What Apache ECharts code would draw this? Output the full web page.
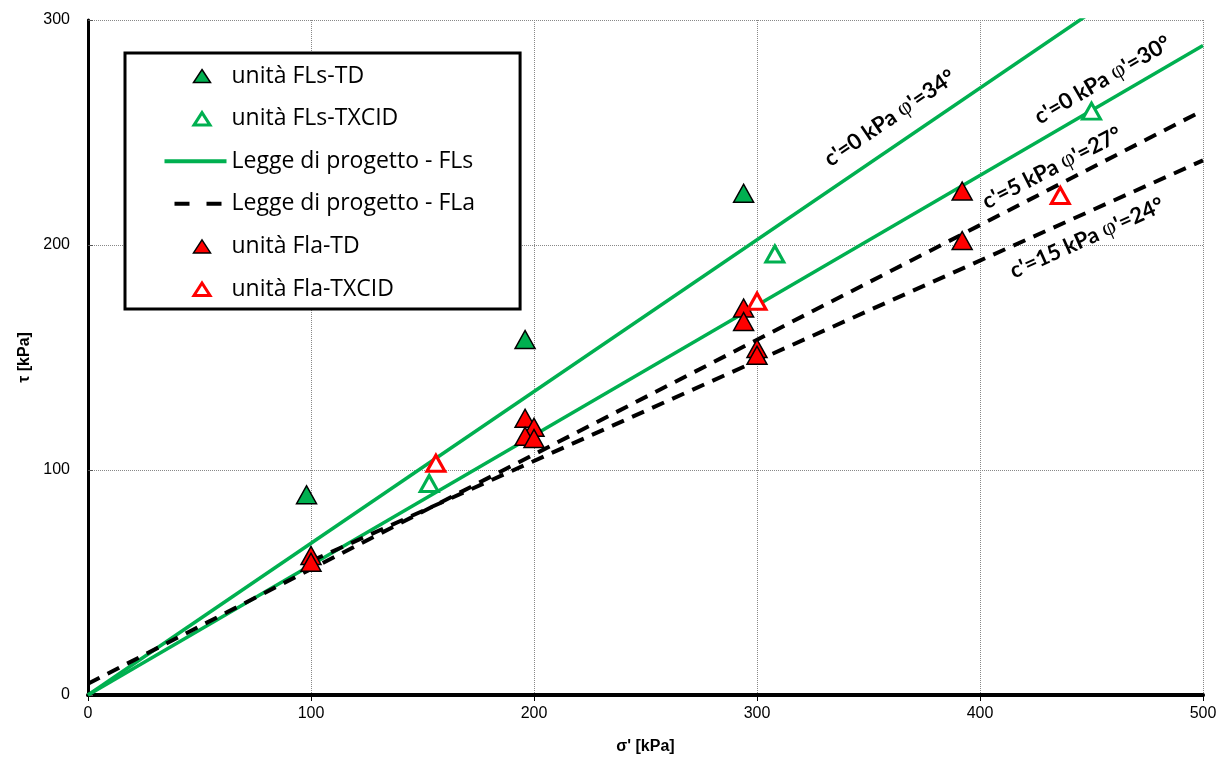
<!DOCTYPE html>
<html>
<head>
<meta charset="utf-8">
<script src="https://cdn.jsdelivr.net/npm/echarts@6/dist/echarts.min.js"></script>
<style>
html,body{margin:0;padding:0;background:#fff;}
#chart{width:1230px;height:764px;}
</style>
</head>
<body>
<div id="chart"></div>
<script>
// ---- data ----
var xTicks = [0, 100, 200, 300, 400, 500];
var yTicks = [0, 100, 200, 300];

var flsTD = [[98, 89], [196, 158], [294, 223]];
var flsTXCID = [[153, 94], [308, 196], [450, 259.5]];
var flaTD = [[100, 62], [100, 59], [196, 123], [200, 119], [196, 115], [200, 114],
             [294, 172], [294, 166], [300, 154], [300, 151], [392, 224], [392, 202]];
var flaTXCID = [[156, 103], [300, 175], [436, 222]];

// design envelopes (end points)
var fls34 = [[0, 0], [500, 337.2]];
var fls30 = [[0, 0], [500, 288.7]];
var fla27 = [[0, 5], [500, 259.8]];
var fla24 = [[100, 59.5], [500, 237.6]];

var annotations = [
  {text: ["c'=0 kPa ", "φ", "'=34°"], at: [359.6, 256.4], angle: 34.2},
  {text: ["c'=0 kPa ", "φ", "'=30°"], at: [455, 273.3], angle: 30.2},
  {text: ["c'=5 kPa ", "φ", "'=27°"], at: [432.3, 234.2], angle: 27.2},
  {text: ["c'=15 kPa ", "φ", "'=24°"], at: [448, 203], angle: 24.2}
];

var GREEN = '#00B050', RED = '#FF0000';
var sans = 'Open Sans';

var chart = echarts.init(document.getElementById('chart'), null, {renderer: 'canvas'});

// legend icons drawn inside a 62x16 box (zero-length corner moves fix the box)
var box = ' M0,0 L0,0 M62,16 L62,16';
var triFilled = 'path://M37.5,1.5 L46,14.5 L29,14.5 Z' + box;
var triHollow = 'path://M37.5,2 L45.5,14.5 L29.5,14.5 Z' + box;
var solidIcon = 'path://M0,6 L62,6 L62,10 L0,10 Z' + box;
var dashIcon = 'path://M10,6 L25,6 L25,10 L10,10 Z M42,6 L57,6 L57,10 L42,10 Z' + box;

var option = {
  backgroundColor: '#fff',
  animation: false,
  grid: {left: 88, right: 27, top: 20, bottom: 69, containLabel: false},
  legend: {
    orient: 'vertical',
    left: 125, top: 53,
    padding: [11, 45, 8, 38],
    borderColor: '#000', borderWidth: 3,
    backgroundColor: '#fff',
    itemWidth: 62, itemHeight: 16, itemGap: 18.6,
    symbolKeepAspect: true,
    selectedMode: false,
    textStyle: {fontFamily: sans, fontSize: 23, lineHeight: 24, color: '#000'},
    data: [
      {name: 'unità FLs-TD', icon: triFilled, itemStyle: {color: GREEN, borderColor: '#000', borderWidth: 1.5}},
      {name: 'unità FLs-TXCID', icon: triHollow, itemStyle: {color: '#fff', borderColor: GREEN, borderWidth: 3}},
      {name: 'Legge di progetto - FLs', icon: solidIcon, itemStyle: {color: GREEN, borderWidth: 0}},
      {name: 'Legge di progetto - FLa', icon: dashIcon, itemStyle: {color: '#000', borderWidth: 0}},
      {name: 'unità Fla-TD', icon: triFilled, itemStyle: {color: RED, borderColor: '#000', borderWidth: 1.5}},
      {name: 'unità Fla-TXCID', icon: triHollow, itemStyle: {color: '#fff', borderColor: RED, borderWidth: 3}}
    ]
  },
  xAxis: [{
    type: 'value', min: xTicks[0], max: xTicks[xTicks.length - 1], interval: 100,
    position: 'bottom',
    name: "σ' [kPa]", nameLocation: 'middle', nameGap: 44,
    nameTextStyle: {fontFamily: 'Liberation Sans', fontWeight: 'bold', fontSize: 16, color: '#000'},
    axisLine: {lineStyle: {color: '#000', width: 4}},
    axisTick: {show: true, length: 6, lineStyle: {color: '#000', width: 1}},
    axisLabel: {fontFamily: 'Liberation Sans', fontSize: 16, color: '#000', margin: 11},
    splitLine: {show: true, lineStyle: {type: 'dotted', color: '#888', width: 1}}
  }, {
    type: 'value', min: 0, max: 500, position: 'top',
    axisLine: {show: true, lineStyle: {color: '#000', width: 3}},
    axisTick: {show: false}, axisLabel: {show: false}, splitLine: {show: false}
  }],
  yAxis: [{
    type: 'value', min: yTicks[0], max: yTicks[yTicks.length - 1], interval: 100,
    position: 'left',
    name: 'τ [kPa]', nameLocation: 'middle', nameGap: 55,
    nameTextStyle: {fontFamily: 'Liberation Sans', fontWeight: 'bold', fontSize: 16, color: '#000'},
    axisLine: {show: true, lineStyle: {color: '#555', width: 2}},
    axisTick: {show: true, inside: true, length: 5, lineStyle: {color: '#555', width: 1}},
    axisLabel: {fontFamily: 'Liberation Sans', fontSize: 16, color: '#000', margin: 18},
    splitLine: {show: true, lineStyle: {type: 'dotted', color: '#888', width: 1}}
  }, {
    type: 'value', min: 0, max: 300, position: 'right',
    axisLine: {show: true, lineStyle: {color: '#000', width: 3}},
    axisTick: {show: false}, axisLabel: {show: false}, splitLine: {show: false}
  }],
  series: [
    {name: 'Legge di progetto - FLs', type: 'line', data: fls34, symbol: 'none', clip: true,
     lineStyle: {color: GREEN, width: 3.5}, itemStyle: {color: GREEN}, z: 2},
    {name: 'Legge di progetto - FLs', type: 'line', data: fls30, symbol: 'none', clip: true,
     lineStyle: {color: GREEN, width: 3.5}, itemStyle: {color: GREEN}, z: 2},
    {name: 'Legge di progetto - FLa', type: 'line', data: fla27, symbol: 'none', clip: true,
     lineStyle: {color: '#000', width: 4, type: [13, 9]}, itemStyle: {color: '#000'}, z: 2},
    {name: 'Legge di progetto - FLa', type: 'line', data: fla24, symbol: 'none', clip: true,
     lineStyle: {color: '#000', width: 4, type: [13, 9]}, itemStyle: {color: '#000'}, z: 2},
    {name: 'unità FLs-TD', type: 'scatter', data: flsTD, symbol: 'triangle', symbolSize: [20, 18],
     itemStyle: {color: GREEN, borderColor: '#000', borderWidth: 1.5, opacity: 1}, z: 5},
    {name: 'unità FLs-TXCID', type: 'scatter', data: flsTXCID, symbol: 'triangle', symbolSize: [18, 16],
     itemStyle: {color: '#fff', borderColor: GREEN, borderWidth: 3, opacity: 1}, z: 5},
    {name: 'unità Fla-TD', type: 'scatter', data: flaTD, symbol: 'triangle', symbolSize: [20, 18],
     itemStyle: {color: RED, borderColor: '#000', borderWidth: 1.5, opacity: 1}, z: 5},
    {name: 'unità Fla-TXCID', type: 'scatter', data: flaTXCID, symbol: 'triangle', symbolSize: [18, 16],
     itemStyle: {color: '#fff', borderColor: RED, borderWidth: 3, opacity: 1}, z: 6}
  ]
};
chart.setOption(option);

var graphics = annotations.map(function (a) {
  var p = chart.convertToPixel({gridIndex: 0}, a.at);
  return {
    type: 'text', x: p[0], y: p[1], rotation: a.angle * Math.PI / 180, z: 10,
    style: {
      text: '{a|' + a.text[0] + '}{p|' + a.text[1] + '}{a|' + a.text[2] + '}',
      align: 'center', verticalAlign: 'middle',
      rich: {
        a: {fontFamily: 'Lato', fontWeight: 'bold', fontSize: 22, fill: '#000'},
        p: {fontFamily: 'Liberation Serif', fontSize: 24, fill: '#000'}
      }
    }
  };
});
chart.setOption({graphic: graphics});
</script>
</body>
</html>
